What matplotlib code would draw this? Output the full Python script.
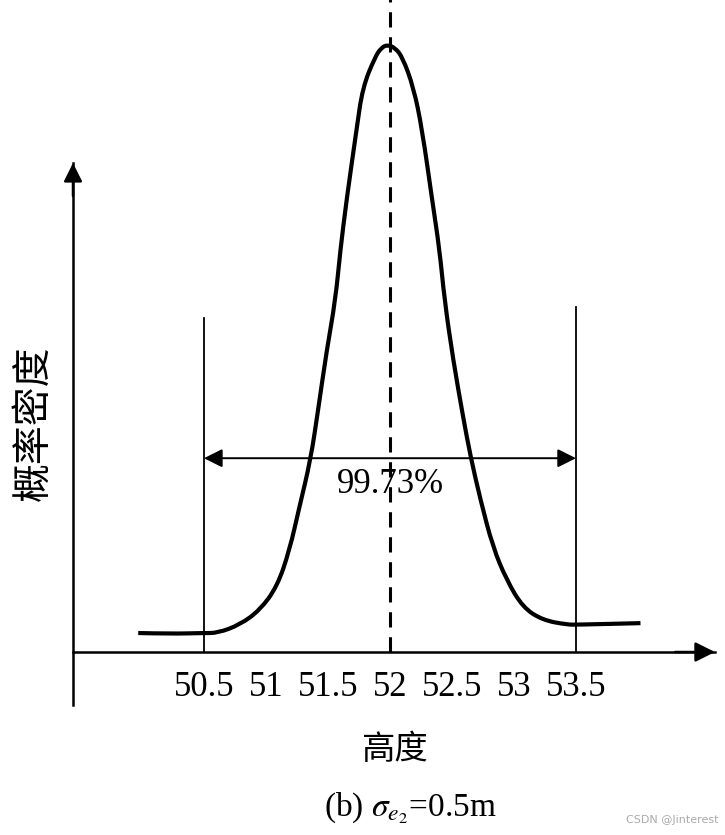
import matplotlib
matplotlib.use("Agg")
import matplotlib.pyplot as plt
from matplotlib.path import Path
from matplotlib.patches import PathPatch

plt.rcParams['font.family'] = ['Liberation Serif', 'Noto Sans CJK SC', 'DejaVu Sans']
plt.rcParams['mathtext.fontset'] = 'stix'
plt.rcParams['lines.scale_dashes'] = False

# curve (height, density in arbitrary units)
curve_x = [49.97, 50.23, 50.49, 50.61, 50.79, 50.95, 51.09, 51.19, 51.27, 51.36,
           51.42, 51.49, 51.56, 51.60, 51.65, 51.73, 51.78, 51.88, 51.93, 51.98,
           52.04, 52.10, 52.19, 52.26, 52.34, 52.40, 52.44, 52.51, 52.59, 52.65,
           52.73, 52.83, 52.94, 53.07, 53.23, 53.43, 53.51, 54.02]
curve_y = [0.025, 0.024, 0.025, 0.025, 0.036, 0.055, 0.086, 0.134, 0.191, 0.253,
           0.318, 0.397, 0.463, 0.529, 0.595, 0.687, 0.743, 0.783, 0.795, 0.799,
           0.795, 0.783, 0.743, 0.687, 0.595, 0.529, 0.463, 0.384, 0.309, 0.257,
           0.200, 0.138, 0.095, 0.059, 0.042, 0.036, 0.036, 0.038]

mean = 52
limits = [50.5, 53.5]
limit_tops = [0.44, 0.454]
span_y = 0.255
span_label = "99.73%"
ticks = [50.5, 51, 51.5, 52, 52.5, 53, 53.5]
tick_labels = ["50.5", "51", "51.5", "52", "52.5", "53", "53.5"]

fig = plt.figure(figsize=(7.25, 8.35), dpi=100)
ax = fig.add_axes([73 / 725, 130 / 835, 642 / 725, 542 / 835])
ax.set_xlim(49.444, 54.621)
ax.set_ylim(-0.0697, 0.6434)

for s in ['top', 'right']:
    ax.spines[s].set_visible(False)
ax.spines['bottom'].set_position(('data', 0))
ax.spines['left'].set_linewidth(1.8)
ax.spines['bottom'].set_linewidth(1.8)

# axis arrowheads
ax.annotate('', xy=(54.621, 0), xytext=(54.30, 0), xycoords='data',
            arrowprops=dict(arrowstyle='-|>', color='black', lw=1.8,
                            mutation_scale=30, shrinkA=0, shrinkB=0), annotation_clip=False)
ax.annotate('', xy=(49.444, 0.6434), xytext=(49.444, 0.60), xycoords='data',
            arrowprops=dict(arrowstyle='-|>', color='black', lw=1.8,
                            mutation_scale=28, shrinkA=0, shrinkB=0), annotation_clip=False)

ax.set_xticks(ticks)
ax.set_xticklabels(tick_labels, fontsize=25)
ax.tick_params(axis='x', length=0, pad=14)
ax.set_yticks([])

# curve, smoothed with quadratic bezier through segment midpoints
pts = list(zip(curve_x, curve_y))
verts = [pts[0]]
codes = [Path.MOVETO]
for i in range(1, len(pts) - 1):
    mid = ((pts[i][0] + pts[i + 1][0]) / 2, (pts[i][1] + pts[i + 1][1]) / 2)
    verts += [pts[i], mid]
    codes += [Path.CURVE3, Path.CURVE3]
verts.append(pts[-1])
codes.append(Path.LINETO)
curve = PathPatch(Path(verts, codes), facecolor='none', edgecolor='black', lw=3.0,
                  capstyle='butt', joinstyle='round', clip_on=False)
ax.add_patch(curve)

# mean dashed line
ax.plot([mean, mean], [0, 0.86], color='black', lw=2.2, dashes=(11, 7), clip_on=False)

# limit lines
for lx, top in zip(limits, limit_tops):
    ax.plot([lx, lx], [0, top], color='black', lw=1.3)

ax.annotate('', xy=(limits[0], span_y), xytext=(limits[1], span_y),
            arrowprops=dict(arrowstyle='<|-|>', color='black', lw=1.4,
                            mutation_scale=28, shrinkA=0, shrinkB=0))
ax.text(mean, span_y - 0.035, span_label, ha='center', va='center', fontsize=25)

ax.set_xlabel('高度', fontsize=24, labelpad=22)
ax.set_ylabel('概率密度', fontsize=28, labelpad=12)
ax.yaxis.set_label_coords(-0.03, 0.52)

fig.text(410 / 725, 1 - 808 / 835, r'(b) $\sigma_{e_2}$=0.5m', ha='center', va='center',
         fontsize=24)
fig.text(718 / 725, 1 - 820 / 835, 'CSDN @Jinterest', ha='right', va='center',
         fontsize=8, color='#aaaaaa', family='DejaVu Sans')

fig.savefig('out.png', dpi=100)
